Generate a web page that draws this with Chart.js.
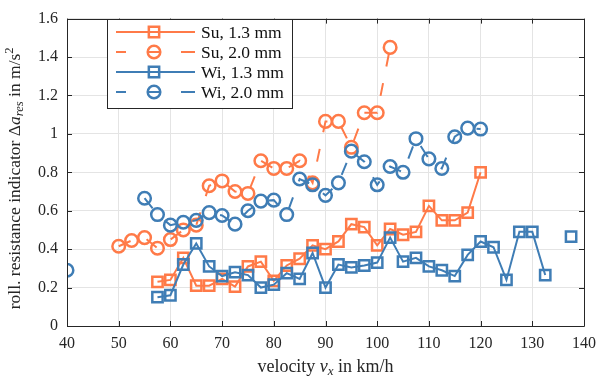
<!DOCTYPE html>
<html>
<head>
<meta charset="utf-8">
<script src="https://cdn.jsdelivr.net/npm/chart.js@4/dist/chart.umd.min.js"></script>
<style>
  html, body { margin: 0; padding: 0; background: #fff; }
  canvas { display: block; }
</style>
</head>
<body>
<canvas id="myChart" width="604" height="379"></canvas>
<script>
// data (velocity in km/h, indicator in m/s^2)
const suThinX = [57.5, 60, 62.5, 65, 67.5, 70, 72.5, 75, 77.5, 80, 82.5, 85, 87.5, 90, 92.5, 95, 97.5, 100, 102.5, 105, 107.5, 110, 112.5, 115, 117.5, 120];
const suThinY = [0.23, 0.24, 0.355, 0.21, 0.21, 0.245, 0.205, 0.31, 0.335, 0.235, 0.315, 0.35, 0.42, 0.40, 0.44, 0.53, 0.515, 0.42, 0.505, 0.475, 0.49, 0.625, 0.55, 0.55, 0.59, 0.80];

const suThickX = [50, 52.5, 55, 57.5, 60, 62.5, 65, 67.5, 70, 72.5, 75, 77.5, 80, 82.5, 85, 87.5, 90, 92.5, 95, 97.5, 100, 102.5];
const suThickY = [0.415, 0.445, 0.46, 0.405, 0.45, 0.50, 0.525, 0.73, 0.755, 0.70, 0.69, 0.86, 0.82, 0.82, 0.86, 0.745, 1.065, 1.065, 0.93, 1.11, 1.11, 1.45];

const wiThinX = [57.5, 60, 62.5, 65, 67.5, 70, 72.5, 75, 77.5, 80, 82.5, 85, 87.5, 90, 92.5, 95, 97.5, 100, 102.5, 105, 107.5, 110, 112.5, 115, 117.5, 120, 122.5, 125, 127.5, 130, 132.5, 135, 137.5];
const wiThinY = [0.15, 0.16, 0.32, 0.43, 0.31, 0.26, 0.28, 0.265, 0.20, 0.215, 0.275, 0.245, 0.38, 0.20, 0.32, 0.305, 0.315, 0.33, 0.46, 0.335, 0.355, 0.31, 0.29, 0.26, 0.37, 0.44, 0.41, 0.24, 0.49, 0.49, 0.265, null, 0.465];

const wiThickX = [40, 42.5, 55, 57.5, 60, 62.5, 65, 67.5, 70, 72.5, 75, 77.5, 80, 82.5, 85, 87.5, 90, 92.5, 95, 97.5, 100, 102.5, 105, 107.5, 110, 112.5, 115, 117.5, 120];
const wiThickY = [0.29, null, 0.665, 0.58, 0.525, 0.54, 0.55, 0.59, 0.575, 0.53, 0.60, 0.65, 0.655, 0.58, 0.765, 0.735, 0.68, 0.745, 0.91, 0.855, 0.735, 0.83, 0.80, 0.975, 0.87, 0.82, 0.985, 1.03, 1.025];

const seriesLabels = ['Su, 1.3 mm', 'Su, 2.0 mm', 'Wi, 1.3 mm', 'Wi, 2.0 mm'];
const xTicks = [40, 50, 60, 70, 80, 90, 100, 110, 120, 130, 140];
const yTicks = [0, 0.2, 0.4, 0.6, 0.8, 1, 1.2, 1.4, 1.6];

const orange = '#ff7a48';
const blue = '#3f7db5';
const axisCol = '#262626';
const serif = "'Liberation Serif', 'DejaVu Serif', serif";

const makeSet = (label, xs, ys, color, shape, dashed, order) => ({
    label: label,
    data: xs.map((v, i) => ({ x: v, y: ys[i] })),
    showLine: true,
    spanGaps: false,
    borderColor: color,
    borderWidth: 2,
    borderDash: dashed ? [13, 17] : [],
    pointStyle: shape,
    pointRadius: shape === 'rect' ? 7.3 : 6.3,
    pointBorderWidth: 2.5,
    pointBorderColor: color,
    pointBackgroundColor: 'rgba(0,0,0,0)',
    order: order
});

// text with italic / sub / superscript pieces
const drawRich = (ctx, parts, x, y, size) => {
    let w = 0;
    parts.forEach(p => {
        ctx.font = (p.it ? 'italic ' : '') + (p.small ? size * 0.72 : size) + 'px ' + serif;
        p.w = ctx.measureText(p.t).width;
        w += p.w;
    });
    let cx = x - w / 2;
    parts.forEach(p => {
        ctx.font = (p.it ? 'italic ' : '') + (p.small ? size * 0.72 : size) + 'px ' + serif;
        ctx.fillText(p.t, cx, y + (p.dy || 0));
        cx += p.w;
    });
};

const frame = {
    id: 'frame',
    afterDraw: (chart) => {
        const ctx = chart.ctx;
        const a = chart.chartArea;
        const xs = chart.scales.x;
        const ys = chart.scales.y;
        ctx.save();
        ctx.strokeStyle = axisCol;
        ctx.lineWidth = 1;
        ctx.beginPath();
        ctx.rect(Math.round(a.left) + 0.5, Math.round(a.top) + 0.5, Math.round(a.right - a.left), Math.round(a.bottom - a.top));
        xTicks.forEach(t => {
            const px = Math.round(xs.getPixelForValue(t)) + 0.5;
            ctx.moveTo(px, a.bottom); ctx.lineTo(px, a.bottom - 5);
            ctx.moveTo(px, a.top); ctx.lineTo(px, a.top + 5);
        });
        yTicks.forEach(t => {
            const py = Math.round(ys.getPixelForValue(t)) + 0.5;
            ctx.moveTo(a.left, py); ctx.lineTo(a.left + 5, py);
            ctx.moveTo(a.right, py); ctx.lineTo(a.right - 5, py);
        });
        ctx.stroke();

        // axis titles
        ctx.fillStyle = axisCol;
        ctx.textBaseline = 'alphabetic';
        drawRich(ctx, [
            { t: 'velocity ' },
            { t: 'v', it: true },
            { t: 'x', it: true, small: true, dy: 3 },
            { t: ' in km/h' }
        ], (a.left + a.right) / 2, 372, 18);

        ctx.save();
        ctx.translate(20, (a.top + a.bottom) / 2 + 6);
        ctx.rotate(-Math.PI / 2);
        drawRich(ctx, [
            { t: 'roll. resistance indicator Δ' },
            { t: 'a', it: true },
            { t: 'res', it: true, small: true, dy: 3 },
            { t: ' in m/s' },
            { t: '2', small: true, dy: -7 }
        ], 0, 0, 17.5);
        ctx.restore();

        // legend box
        const box = { l: 107.5, t: 19.5, w: 185, h: 89 };
        ctx.fillStyle = '#fff';
        ctx.fillRect(box.l, box.t, box.w, box.h);
        ctx.strokeStyle = axisCol;
        ctx.strokeRect(box.l, box.t, box.w, box.h);
        const rows = [32, 52, 72, 92];
        const sets = chart.data.datasets;
        rows.forEach((ry, i) => {
            const ds = sets[i];
            ctx.strokeStyle = ds.borderColor;
            ctx.lineWidth = 2;
            ctx.beginPath();
            if (ds.borderDash.length) {
                ctx.moveTo(116, ry); ctx.lineTo(126, ry);
                ctx.moveTo(147, ry); ctx.lineTo(161, ry);
                ctx.moveTo(181, ry); ctx.lineTo(195, ry);
            } else {
                ctx.moveTo(116, ry); ctx.lineTo(195, ry);
            }
            ctx.stroke();
            ctx.lineWidth = ds.pointBorderWidth;
            ctx.beginPath();
            if (ds.pointStyle === 'rect') {
                const s = ds.pointRadius * Math.SQRT1_2;
                ctx.rect(154 - s, ry - s, 2 * s, 2 * s);
            } else {
                ctx.arc(154, ry, ds.pointRadius, 0, Math.PI * 2);
            }
            ctx.stroke();
            ctx.fillStyle = '#111';
            ctx.font = '17.5px ' + serif;
            ctx.textBaseline = 'middle';
            ctx.fillText(seriesLabels[i], 201, ry + 1);
        });
        ctx.restore();
    }
};

const background = {
    id: 'white_bg',
    beforeDraw: (chart) => {
        const ctx = chart.canvas.getContext('2d');
        ctx.save();
        ctx.fillStyle = 'white';
        ctx.fillRect(0, 0, chart.width, chart.height);
        ctx.restore();
    }
};

const ctx = document.getElementById('myChart').getContext('2d');

const myChart = new Chart(ctx, {
    type: 'scatter',
    plugins: [background, frame],
    data: {
        datasets: [
            makeSet(seriesLabels[0], suThinX, suThinY, orange, 'rect', false, 3),
            makeSet(seriesLabels[1], suThickX, suThickY, orange, 'circle', true, 2),
            makeSet(seriesLabels[2], wiThinX, wiThinY, blue, 'rect', false, 1),
            makeSet(seriesLabels[3], wiThickX, wiThickY, blue, 'circle', true, 0)
        ]
    },
    options: {
        responsive: false,
        animation: false,
        layout: { padding: { left: 0, right: 9, top: 12, bottom: 0 } },
        plugins: {
            legend: { display: false },
            tooltip: { enabled: false }
        },
        scales: {
            x: {
                type: 'linear',
                min: 40,
                max: 140,
                afterBuildTicks: (s) => { s.ticks = xTicks.map(v => ({ value: v })); },
                afterFit: (s) => { s.height = 53; },
                ticks: { padding: 8, color: axisCol, font: { family: serif, size: 16 } },
                grid: { color: '#e4e4e4', lineWidth: 1, drawTicks: false },
                border: { display: false }
            },
            y: {
                min: 0,
                max: 1.6,
                afterBuildTicks: (s) => { s.ticks = yTicks.map(v => ({ value: v })); },
                afterFit: (s) => { s.width = 67; },
                ticks: {
                    padding: 9,
                    color: axisCol,
                    font: { family: serif, size: 16 },
                    callback: (v) => String(+v.toFixed(1))
                },
                grid: { color: '#e4e4e4', lineWidth: 1, drawTicks: false },
                border: { display: false }
            }
        }
    }
});
</script>
</body>
</html>
